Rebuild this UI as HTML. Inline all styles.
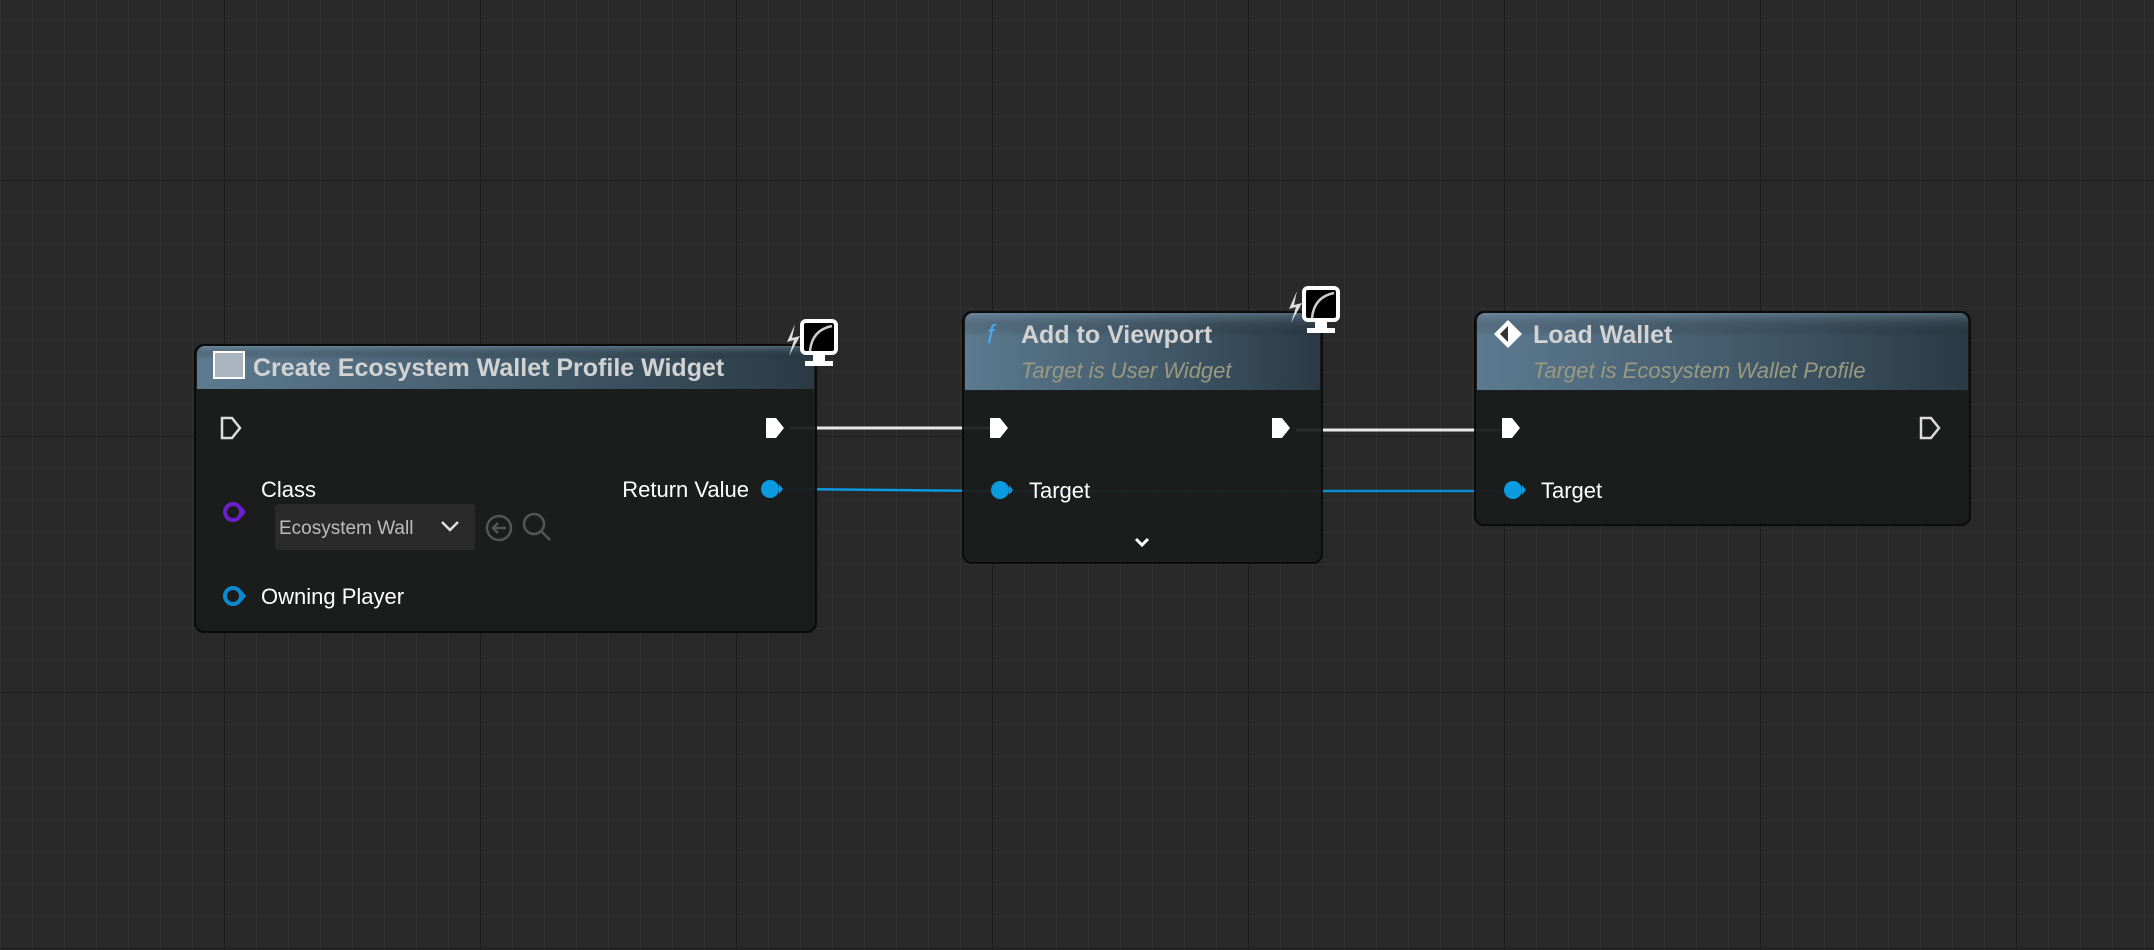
<!DOCTYPE html>
<html><head><meta charset="utf-8"><style>
html,body{margin:0;padding:0;background:#282828;}
svg{display:block}
text{font-family:"Liberation Sans",sans-serif;}
</style></head><body>
<svg width="2154" height="950" viewBox="0 0 2154 950" xmlns="http://www.w3.org/2000/svg">
<defs>
<pattern id="g" x="0" y="20" width="32" height="32" patternUnits="userSpaceOnUse">
<path d="M0 0V32M0 0H32" stroke="#333333" stroke-width="1.5" fill="none"/>
</pattern>
<pattern id="G" x="224" y="436" width="256" height="256" patternUnits="userSpaceOnUse">
<path d="M0 0V256M0 0H256" stroke="#1d1d1d" stroke-width="2" fill="none"/>
</pattern>
<linearGradient id="hd" x1="0" y1="0" x2="1" y2="0">
<stop offset="0" stop-color="#5d7a90"/><stop offset="0.6" stop-color="#3f5666"/><stop offset="1" stop-color="#2a3a45"/>
</linearGradient>
<linearGradient id="hv" x1="0" y1="0" x2="0" y2="1">
<stop offset="0" stop-color="#7a94a8" stop-opacity="0.5"/><stop offset="0.3" stop-color="#000" stop-opacity="0"/>
</linearGradient>
<g id="mon">
<rect x="18" y="3" width="34" height="32" rx="4" fill="#000" stroke="#fff" stroke-width="4"/>
<path d="M26 33 Q28 12 48 8" stroke="#ccc" stroke-width="2.5" fill="none"/>
<rect x="29" y="37" width="12" height="7" fill="#fff"/><rect x="21" y="43" width="28" height="5" fill="#fff"/>
<path d="M11 6 L3 24 L10 22 L5 38 L16 18 L8 20Z" fill="#ddd"/>
</g>
</defs>
<rect width="2154" height="950" fill="#292929"/>
<rect width="2154" height="950" fill="url(#g)"/>
<rect width="2154" height="950" fill="url(#G)"/>

<!-- wires -->
<line x1="790" y1="428" x2="990" y2="428" stroke="#e8e8e8" stroke-width="3"/>
<line x1="1296" y1="430" x2="1500" y2="430" stroke="#e8e8e8" stroke-width="3"/>
<line x1="786" y1="489" x2="990" y2="491" stroke="#0a9ae0" stroke-width="2.5"/>
<line x1="990" y1="491" x2="1500" y2="491" stroke="#0a8ad0" stroke-width="2.5"/>

<!-- Node 1 -->
<rect x="195" y="345" width="621" height="287" rx="9" fill="#1b1c1c" opacity="0.95" stroke="#0a0a0a" stroke-width="2"/>
<path d="M197 354 a8 8 0 0 1 8 -8 H806 a8 8 0 0 1 8 8 V389 H197Z" fill="url(#hd)"/>
<path d="M197 354 a8 8 0 0 1 8 -8 H806 a8 8 0 0 1 8 8 V389 H197Z" fill="url(#hv)"/>
<rect x="214" y="352" width="30" height="26" fill="#aab4be" stroke="#fff" stroke-width="2"/>
<text x="253" y="376" font-size="25" font-weight="bold" fill="#d2d2d2">Create Ecosystem Wallet Profile Widget</text>
<use href="#mon" x="784" y="318"/>
<path d="M222 418 h10 l8 10 l-8 10 h-10Z" fill="none" stroke="#ddd" stroke-width="2.5"/>
<path d="M766 418 h10 l8 10 l-8 10 h-10Z" fill="#fff"/>
<text x="261" y="497" font-size="22" fill="#fff">Class</text>
<circle cx="233" cy="512" r="8" fill="none" stroke="#6a1fc8" stroke-width="4"/>
<path d="M242 507 l4 5 l-4 5Z" fill="#6a1fc8"/>
<rect x="275" y="504" width="200" height="46" rx="3" fill="#2a2a2a"/>
<text x="279" y="534" font-size="19" fill="#bdbdbd">Ecosystem Wall</text>
<path d="M442 522 l8 8 l8 -8" stroke="#ddd" stroke-width="2.5" fill="none"/>
<circle cx="499" cy="528" r="12" fill="none" stroke="#555" stroke-width="2.5"/>
<path d="M506 528 h-13 m5 -5 l-5 5 l5 5" stroke="#555" stroke-width="2.5" fill="none"/>
<circle cx="534" cy="524" r="10" fill="none" stroke="#555" stroke-width="2.5"/>
<line x1="541" y1="531" x2="550" y2="540" stroke="#555" stroke-width="2.5"/>
<text x="749" y="497" font-size="22" fill="#fff" text-anchor="end">Return Value</text>
<circle cx="770" cy="489" r="9" fill="#0a9ae0"/><path d="M779 484 l4 5 l-4 5Z" fill="#0a9ae0"/>
<circle cx="233" cy="596" r="8" fill="none" stroke="#0a8ad0" stroke-width="4"/>
<path d="M242 591 l4 5 l-4 5Z" fill="#0a8ad0"/>
<text x="261" y="604" font-size="22" fill="#fff">Owning Player</text>

<!-- Node 2 -->
<rect x="963" y="312" width="359" height="251" rx="9" fill="#1b1c1c" opacity="0.93" stroke="#0a0a0a" stroke-width="2"/>
<path d="M965 321 a8 8 0 0 1 8 -8 H1312 a8 8 0 0 1 8 8 V390 H965Z" fill="url(#hd)"/>
<path d="M965 321 a8 8 0 0 1 8 -8 H1312 a8 8 0 0 1 8 8 V390 H965Z" fill="url(#hv)"/>
<text x="987" y="343" font-size="26" font-style="italic" fill="#4aa8e8" font-family="Liberation Serif">f</text>
<text x="1021" y="343" font-size="25" font-weight="bold" fill="#d2d2d2">Add to Viewport</text>
<text x="1021" y="378" font-size="22" font-style="italic" fill="#9a9a80">Target is User Widget</text>
<use href="#mon" x="1286" y="285"/>
<path d="M990 418 h10 l8 10 l-8 10 h-10Z" fill="#fff"/>
<path d="M1272 418 h10 l8 10 l-8 10 h-10Z" fill="#fff"/>
<circle cx="1000" cy="490" r="9" fill="#0a9ae0"/><path d="M1009 485 l4 5 l-4 5Z" fill="#0a9ae0"/>
<text x="1029" y="498" font-size="22" fill="#fff">Target</text>
<path d="M1136 539 l6 6 l6 -6" stroke="#fff" stroke-width="3" fill="none"/>

<!-- Node 3 -->
<rect x="1475" y="312" width="495" height="213" rx="9" fill="#1b1c1c" opacity="0.95" stroke="#0a0a0a" stroke-width="2"/>
<path d="M1477 321 a8 8 0 0 1 8 -8 H1960 a8 8 0 0 1 8 8 V390 H1477Z" fill="url(#hd)"/>
<path d="M1477 321 a8 8 0 0 1 8 -8 H1960 a8 8 0 0 1 8 8 V390 H1477Z" fill="url(#hv)"/>
<path d="M1508 320 l14 14 l-14 14 l-14 -14Z" fill="#fff"/><path d="M1508 326 l-8 8 l8 8Z" fill="#333"/>
<text x="1533" y="343" font-size="25" font-weight="bold" fill="#d2d2d2">Load Wallet</text>
<text x="1533" y="378" font-size="22" font-style="italic" fill="#9a9a80">Target is Ecosystem Wallet Profile</text>
<path d="M1502 418 h10 l8 10 l-8 10 h-10Z" fill="#fff"/>
<path d="M1921 418 h10 l8 10 l-8 10 h-10Z" fill="none" stroke="#ddd" stroke-width="2.5"/>
<circle cx="1513" cy="490" r="9" fill="#0a9ae0"/><path d="M1522 485 l4 5 l-4 5Z" fill="#0a9ae0"/>
<text x="1541" y="498" font-size="22" fill="#fff">Target</text>
</svg>
</body></html>
